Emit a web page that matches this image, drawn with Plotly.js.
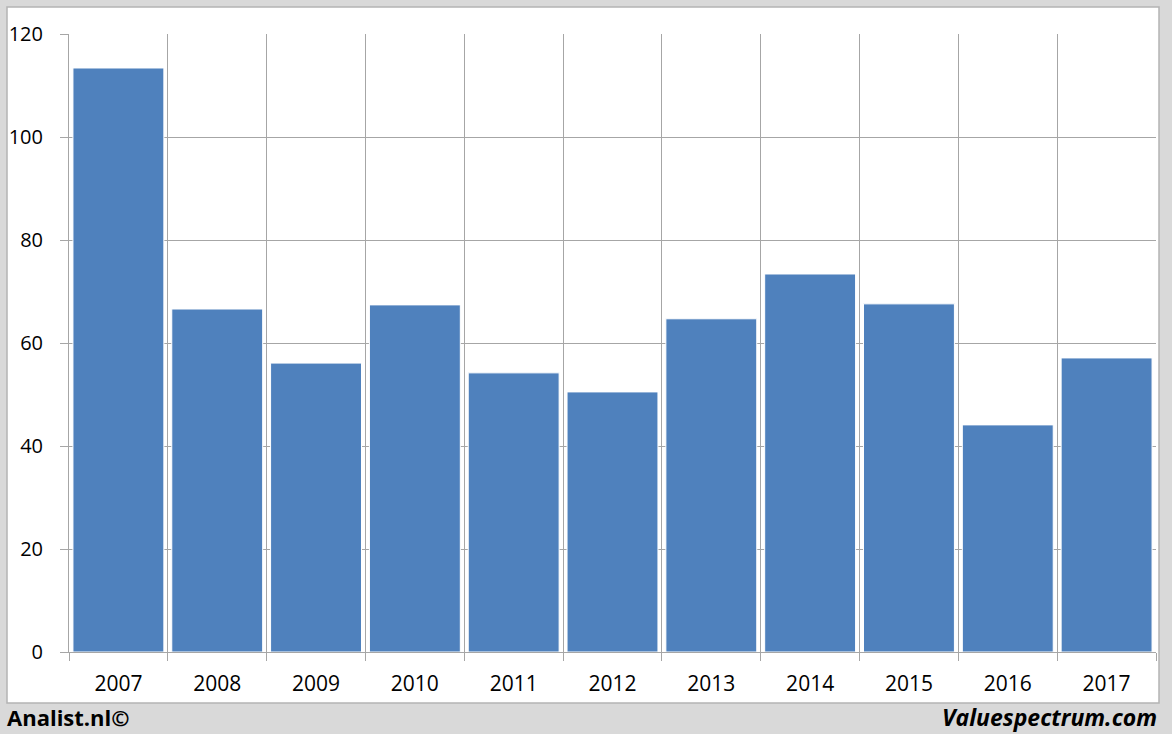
<!DOCTYPE html>
<html>
<head>
<meta charset="utf-8">
<script src="https://cdn.plot.ly/plotly-3.0.1.min.js"></script>
<style>html,body{margin:0;padding:0;background:#d9d9d9;}#chart{width:1172px;height:734px;}</style>
</head>
<body>
<div id="chart"></div>
<script>
const years = ['2007','2008','2009','2010','2011','2012','2013','2014','2015','2016','2017'];
const values = [113.4, 66.6, 56.1, 67.4, 54.2, 50.5, 64.7, 73.4, 67.6, 44.1, 57.1];
const yTicks = [0, 20, 40, 60, 80, 100, 120];

const W = 1172, H = 734, L = 69, R = 16, T = 34, B = 82;
const pw = W - L - R, ph = H - T - B;
const px = v => (v - L) / pw;
const py = v => (H - B - v) / ph;

const trace = {
  type: 'bar', x: years, y: values,
  marker: {color: '#4f81bd', line: {color: '#ffffff', width: 1}},
  hoverinfo: 'x+y'
};

const font = 'Open Sans, Noto Sans, sans-serif';
const layout = {
  width: W, height: H,
  margin: {l: L, r: R, t: T, b: B, pad: 0},
  paper_bgcolor: '#d9d9d9',
  plot_bgcolor: 'rgba(0,0,0,0)',
  showlegend: false,
  bargap: 0.08,
  xaxis: {
    type: 'category', tickson: 'boundaries',
    showgrid: true, gridcolor: '#a6a6a6', gridwidth: 1,
    showline: true, linecolor: '#a6a6a6', linewidth: 1,
    ticks: 'outside', ticklen: 8, tickcolor: '#a6a6a6',
    ticklabelstandoff: 13,
    tickfont: {family: font, size: 21, color: '#000'},
    zeroline: false, fixedrange: true
  },
  yaxis: {
    range: [0, 120], tickvals: yTicks,
    showgrid: true, gridcolor: '#a6a6a6', gridwidth: 1,
    showline: true, linecolor: '#a6a6a6', linewidth: 1,
    ticks: 'outside', ticklen: 8, tickcolor: '#a6a6a6',
    ticklabelstandoff: 13,
    tickfont: {family: font, size: 20, color: '#000'},
    zeroline: false, fixedrange: true
  },
  shapes: [{
    type: 'rect', xref: 'paper', yref: 'paper', layer: 'below',
    x0: px(7), x1: px(1159), y0: py(703), y1: py(7),
    fillcolor: '#ffffff', line: {color: '#b4b4b4', width: 1.5}
  }],
  annotations: [
    {xref: 'paper', yref: 'paper', x: px(5), y: py(717), xanchor: 'left', yanchor: 'middle',
     text: '<b>Analist.nl©</b>', showarrow: false,
     font: {family: font, size: 22, color: '#000'}},
    {xref: 'paper', yref: 'paper', x: px(1159), y: py(717), xanchor: 'right', yanchor: 'middle',
     text: '<b><i>Valuespectrum.com</i></b>', showarrow: false,
     font: {family: font, size: 23, color: '#000'}}
  ]
};

Plotly.newPlot('chart', [trace], layout, {displayModeBar: false, staticPlot: true});
</script>
</body>
</html>
